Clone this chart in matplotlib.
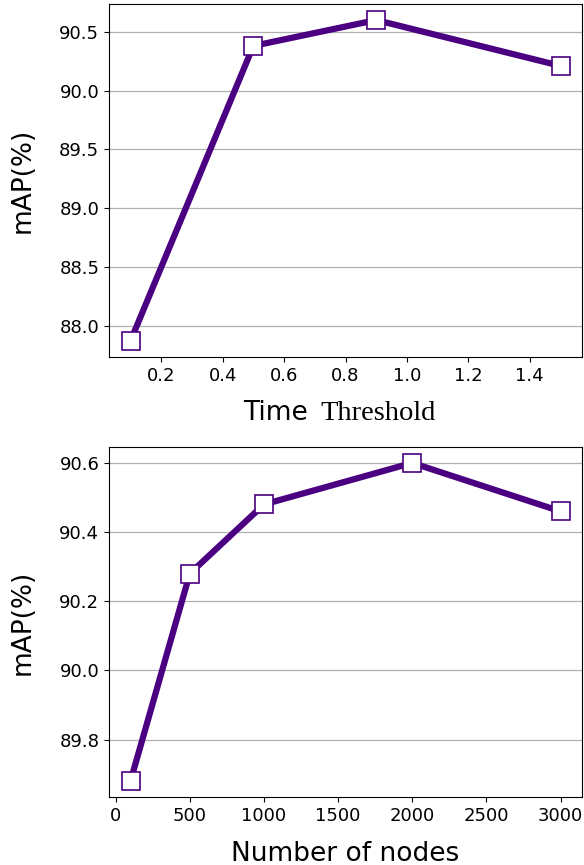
import matplotlib
matplotlib.use('Agg')
import matplotlib.pyplot as plt

# данные: порог по времени
threshold = [0.1, 0.5, 0.9, 1.5]
map_threshold = [87.87, 90.38, 90.60, 90.21]

# данные: число узлов
nodes = [100, 500, 1000, 2000, 3000]
map_nodes = [89.68, 90.28, 90.48, 90.60, 90.46]

LINE_COLOR = '#4B0082'

fig = plt.figure(figsize=(5.84, 8.65), dpi=100)
ax1 = fig.add_axes([109/584, 1 - 357/865, 473/584, 353/865])
ax2 = fig.add_axes([109/584, 1 - 797/865, 473/584, 350/865])

for ax, x, y in [(ax1, threshold, map_threshold), (ax2, nodes, map_nodes)]:
    ax.plot(x, y, color=LINE_COLOR, linewidth=4.5, marker='s', markersize=13,
            markerfacecolor='white', markeredgecolor=LINE_COLOR, markeredgewidth=1.2)
    ax.grid(axis='y', color='#b0b0b0', linewidth=0.9)
    ax.set_axisbelow(True)
    ax.tick_params(labelsize=13)
    ax.set_ylabel('mAP(%)', fontsize=19, labelpad=17)

ax1.set_yticks([88.0, 88.5, 89.0, 89.5, 90.0, 90.5])
ax1.set_yticklabels(['88.0', '88.5', '89.0', '89.5', '90.0', '90.5'])
ax1.set_xticks([0.2, 0.4, 0.6, 0.8, 1.0, 1.2, 1.4])

# подпись оси: "Time" без засечек, "Threshold" с засечками
ax1.text(0.42, -0.178, 'Time', transform=ax1.transAxes, ha='right', va='baseline',
         fontsize=19)
ax1.text(0.448, -0.178, 'Threshold', transform=ax1.transAxes, ha='left', va='baseline',
         fontsize=20.5, family='Liberation Serif')

ax2.set_yticks([89.8, 90.0, 90.2, 90.4, 90.6])
ax2.set_yticklabels(['89.8', '90.0', '90.2', '90.4', '90.6'])
ax2.set_xticks([0, 500, 1000, 1500, 2000, 2500, 3000])
ax2.set_xlabel('Number of nodes', fontsize=19, labelpad=12)

fig.savefig('out.png', dpi=100)
